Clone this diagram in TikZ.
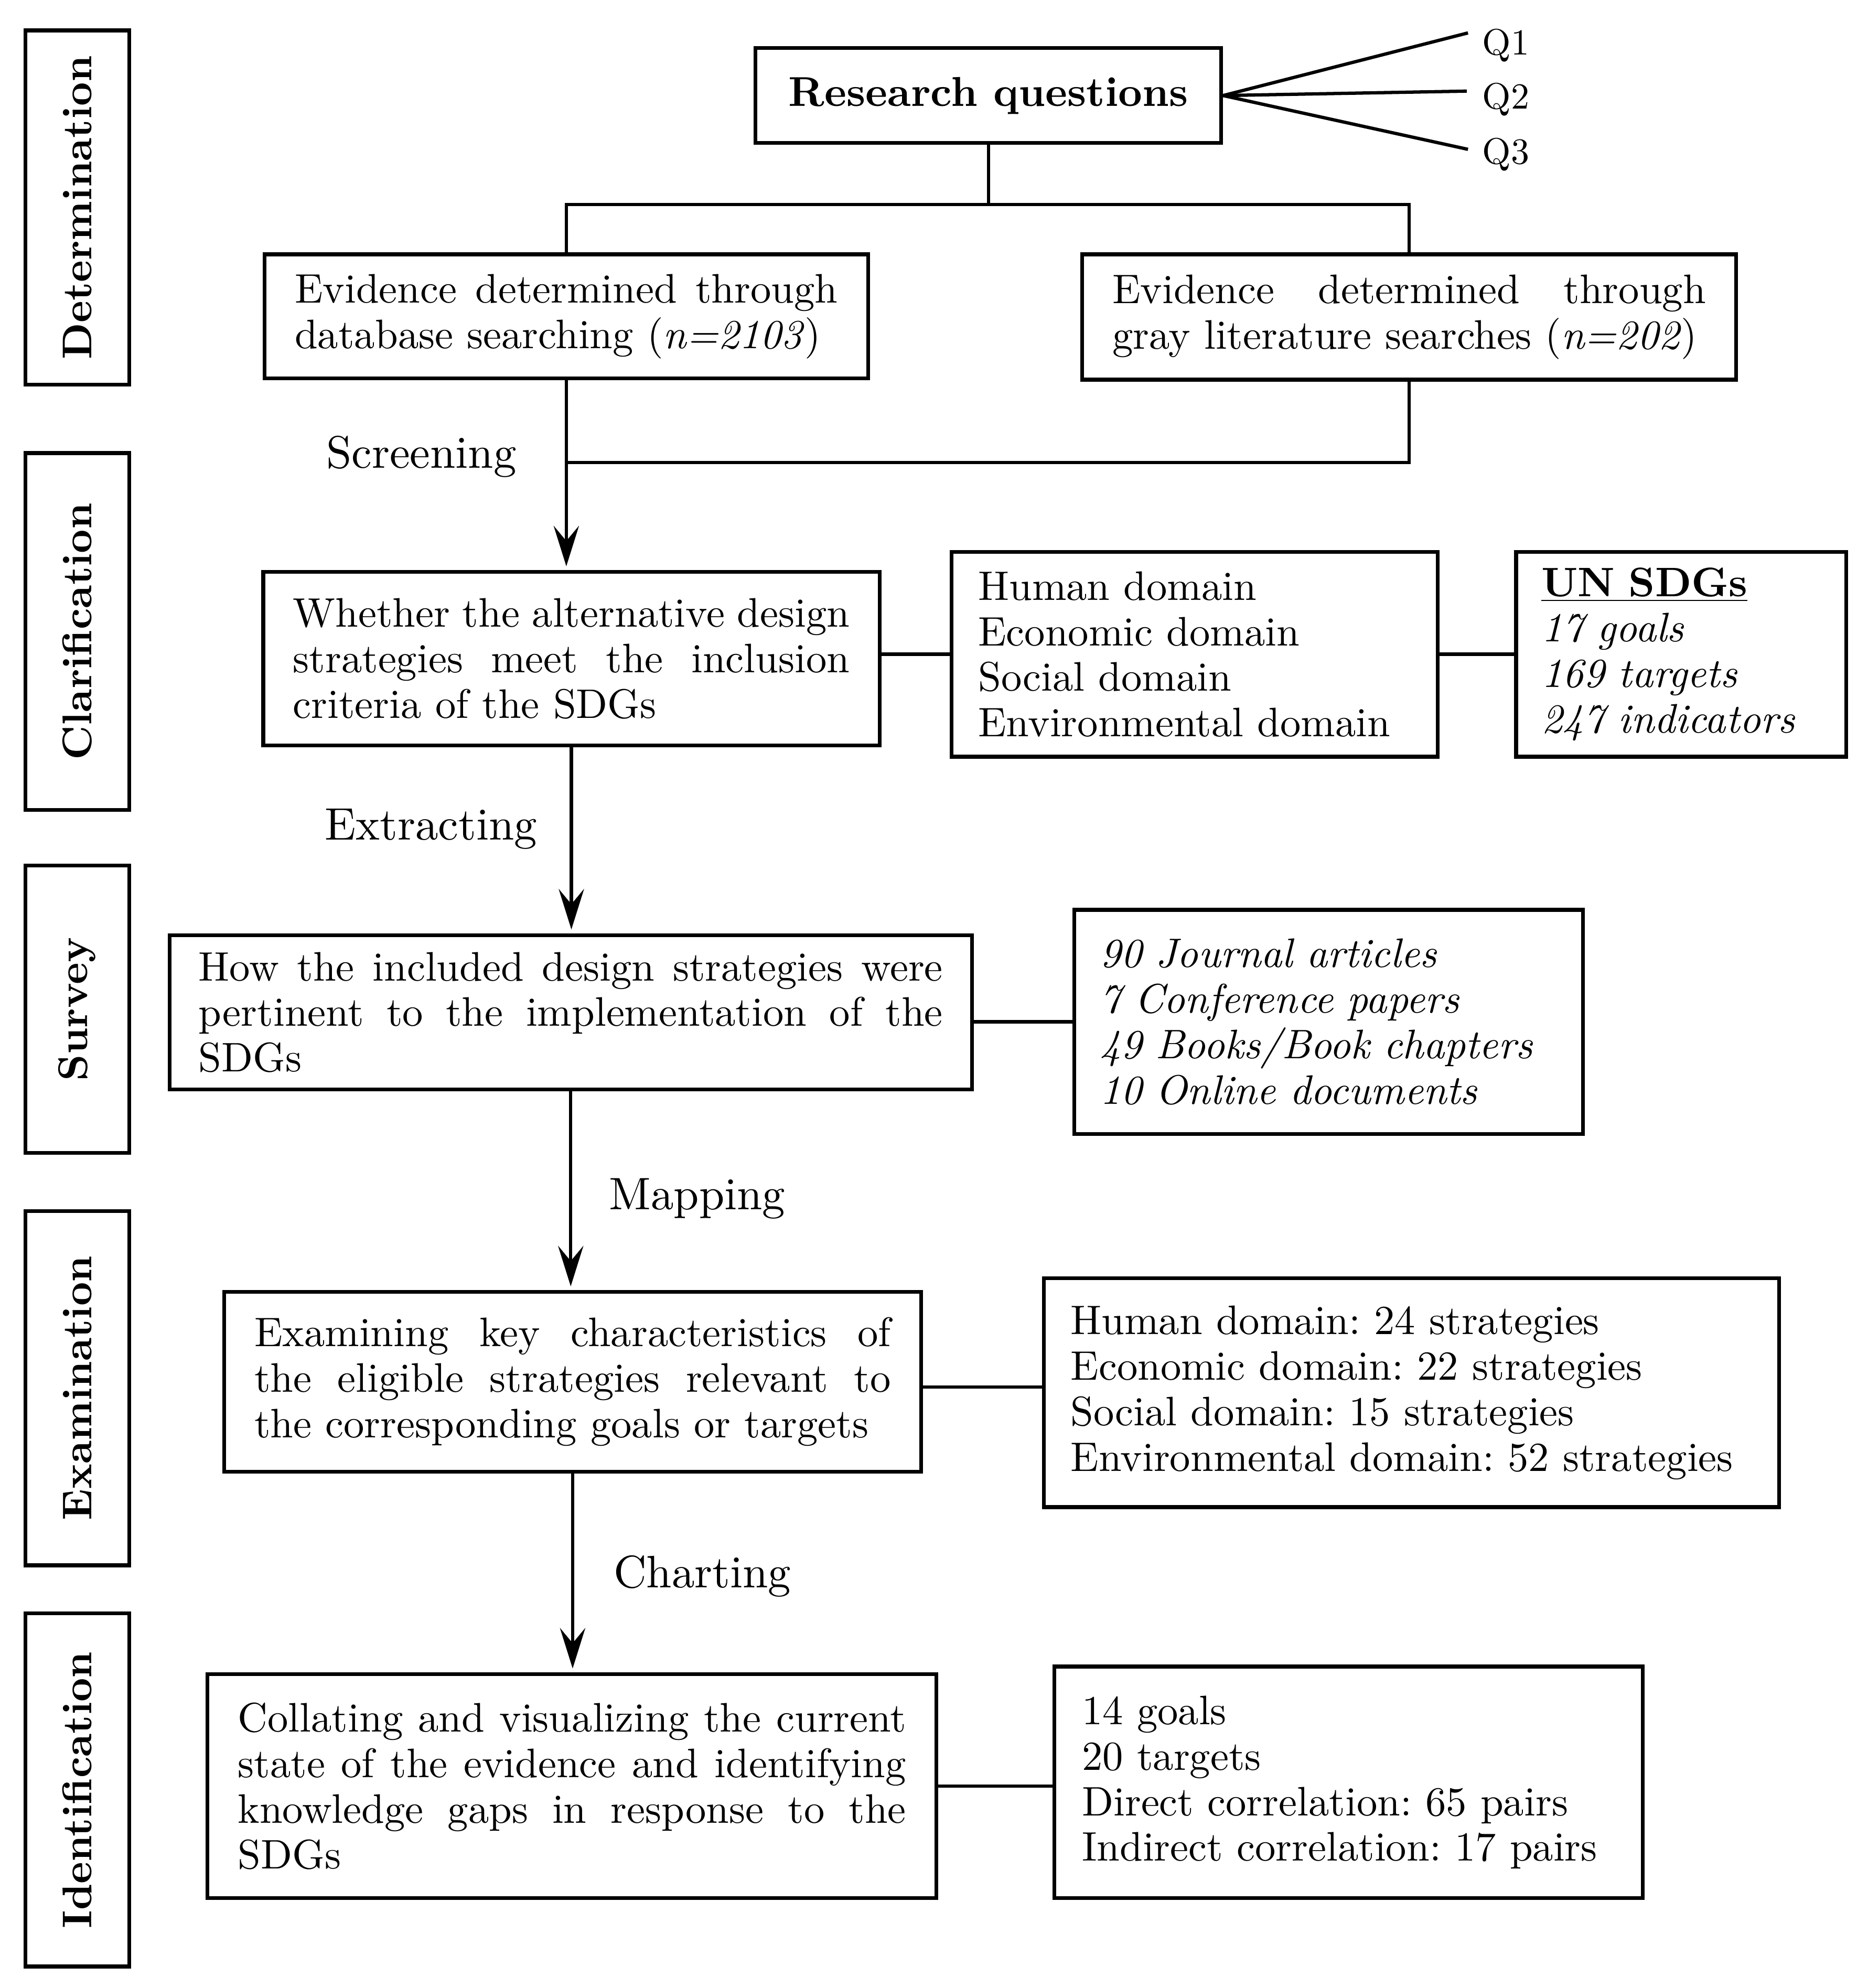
\documentclass[tikz,border=0pt]{standalone}
\usepackage{fontspec}
\setmainfont{lmroman10-regular.otf}[BoldFont=lmroman10-bold.otf, ItalicFont=lmroman10-italic.otf, BoldItalicFont=lmroman10-bolditalic.otf]
\usetikzlibrary{arrows.meta,calc}
\frenchspacing
\newcommand\bodyfont{\fontsize{16.3}{18}\selectfont}
\newcommand\labfont{\fontsize{18}{20}\selectfont}
\newcommand\qfont{\fontsize{14.5}{16}\selectfont}
\newcommand\jl[2]{\leavevmode\hbox to #1{#2}}
\begin{document}
\begin{tikzpicture}[x=0.5pt,y=-0.5pt,
  box/.style={draw, line width=1.5pt, inner sep=0pt, align=left, font=\bodyfont},
  sidebox/.style={draw, line width=1.5pt, inner sep=0pt, rotate=90, minimum height=41pt,
     font=\fontsize{16.4}{18}\selectfont\bfseries},
  conn/.style={line width=1.3pt},
  arr/.style={line width=1.3pt, shorten >=1.5pt, -{Stealth[length=16pt,width=10pt,inset=6pt]}},
  lab/.style={font=\labfont, anchor=base, inner sep=0pt},
  ql/.style={font=\qfont, anchor=base west, inner sep=0pt}]

\useasboundingbox (0,0) rectangle (1476.1,1571);

% side boxes
\node[sidebox, minimum width=140pt] (sDet) at (61,164) {Determination};
\node[sidebox, minimum width=141pt] (sCla) at (61,499) {Clarification};
\node[sidebox, minimum width=113.5pt] (sSur) at (61,797.5) {Survey};
\node[sidebox, minimum width=140pt] (sExa) at (61,1097) {Examination};
\node[sidebox, minimum width=139.5pt] (sIde) at (61,1414.5) {Identification};

% research questions
\node[draw, line width=1.5pt, inner sep=0pt, minimum width=184pt, minimum height=37.5pt,
      font=\fontsize{16.5}{20}\selectfont\bfseries] (rq) at (781,75.5) {Research questions};
\node[ql] (q1) at (1171,43.5) {Q1};
\node[ql] (q2) at (1171,86) {Q2};
\node[ql] (q3) at (1171,129.5) {Q3};
\coordinate (q1e) at (1160,26);
\coordinate (q2e) at (1159,72);
\coordinate (q3e) at (1160,118);
\draw[conn] (rq.east) -- (q1e);
\draw[conn] (rq.east) -- (q2e);
\draw[conn] (rq.east) -- (q3e);

% evidence boxes
\node[box, minimum width=238.5pt, minimum height=49pt, text width=214.5pt] (evL) at (447.5,250)
  {\jl{214.5pt}{Evidence\hfill determined\hfill through}\\database searching (\textit{n=2103})};
\node[box, minimum width=258.5pt, minimum height=49.5pt, text width=234.5pt] (evR) at (1113.5,250.5)
  {\jl{234.5pt}{Evidence\hfill determined\hfill through}\\gray literature searches (\textit{n=202})};

\draw[conn] (rq.south) -- ++(0,47) -| (evL.north);
\draw[conn] (rq.south) ++(0,47) -| (evR.north);

% clarification row
\node[box, minimum width=243.5pt, minimum height=68.5pt, text width=220pt] (clar) at (451.5,520.5)
  {\jl{220pt}{Whether\hfill the\hfill alternative\hfill design}\\\jl{220pt}{strategies\hfill meet\hfill the\hfill inclusion}\\criteria of the SDGs};
\node[box, minimum width=192pt, minimum height=81pt, text width=171pt] (dom) at (944,517)
  {Human domain\\Economic domain\\Social domain\\Environmental domain};
\node[box, minimum width=130.5pt, minimum height=81pt, text width=110.5pt] (un) at (1328.5,517)
  {\underline{\textbf{UN SDGs}}\\\textit{17 goals}\\\textit{169 targets}\\\textit{247 indicators}};

\coordinate (jn) at ($(evL.south)+(0,65)$);
\draw[conn] (evR.south) |- (jn);
\draw[arr] (evL.south) -- (evL.south |- clar.north);
\node[lab] (lScr) at (333,370) {Screening};

\draw[conn] (clar.east |- dom.west) -- (dom.west);
\draw[conn] (dom.east) -- (un.west);

% survey row
\node[box, minimum width=317pt, minimum height=61pt, text width=294pt] (surv) at (451,800)
  {\jl{294pt}{How\hfill the\hfill included\hfill design\hfill strategies\hfill were}\\\jl{294pt}{pertinent\hfill to\hfill the\hfill implementation\hfill of\hfill the}\\SDGs};
\node[box, minimum width=201pt, minimum height=88.5pt, text width=181pt, font=\bodyfont\itshape] (docs) at (1050,807.5)
  {90 Journal articles\\7 Conference papers\\49 Books/Book chapters\\10 Online documents};
\draw[arr] (clar.south) -- (clar.south |- surv.north);
\node[lab] (lExt) at (340.5,663.5) {Extracting};
\draw[conn] (surv.east |- docs.west) -- (docs.west);

% examination row
\node[box, minimum width=275.5pt, minimum height=71pt, text width=251.5pt] (exam) at (452.5,1092)
  {\jl{251.5pt}{Examining\hfill key\hfill characteristics\hfill of}\\\jl{251.5pt}{the\hfill eligible\hfill strategies\hfill relevant\hfill to}\\the corresponding goals or targets};
\node[box, minimum width=290.5pt, minimum height=90.5pt, text width=269.5pt] (strat) at (1115.5,1100.5)
  {Human domain: 24 strategies\\Economic domain: 22 strategies\\Social domain: 15 strategies\\Environmental domain: 52 strategies};
\draw[arr] (surv.south) -- (surv.south |- exam.north);
\node[lab] (lMap) at (551,956) {Mapping};
\draw[conn] ([yshift=-2pt]exam.east) -- ([yshift=-2pt]exam.east -| strat.west);

% identification row
\node[box, minimum width=288pt, minimum height=88.5pt, text width=264pt] (ident) at (452,1411.5)
  {\jl{264pt}{Collating\hfill and\hfill visualizing\hfill the\hfill current}\\\jl{264pt}{state\hfill of\hfill the\hfill evidence\hfill and\hfill identifying}\\\jl{264pt}{knowledge\hfill gaps\hfill in\hfill response\hfill to\hfill the}\\SDGs};
\node[box, minimum width=232.5pt, minimum height=91.5pt, text width=210.5pt] (res) at (1065.5,1408.5)
  {14 goals\\20 targets\\Direct correlation: 65 pairs\\Indirect correlation: 17 pairs};
\draw[arr] (exam.south) -- (exam.south |- ident.north);
\node[lab] (lCha) at (555,1254.5) {Charting};
\draw[conn] (ident.east) -- (ident.east -| res.west);

\end{tikzpicture}
\end{document}
